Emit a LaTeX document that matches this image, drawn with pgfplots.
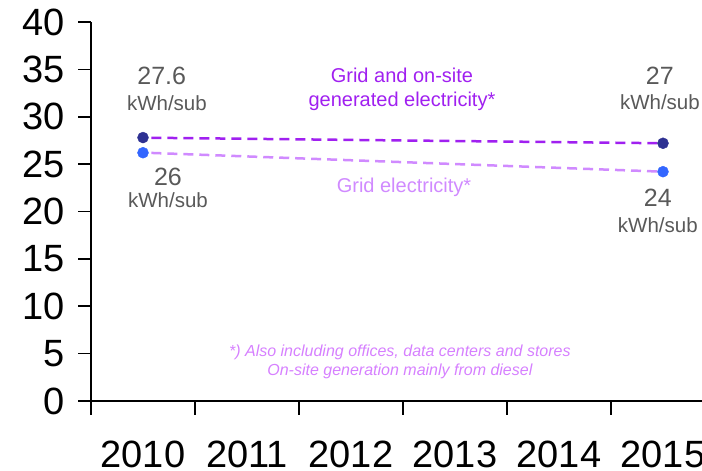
\documentclass[border=0pt]{standalone}
\usepackage{pgfplots}
\pgfplotsset{compat=1.18}
\usepackage{fontspec}
\setmainfont{Liberation Sans}

\definecolor{darkpt}{RGB}{46,49,146}
\definecolor{bluept}{RGB}{51,102,255}
\definecolor{darkline}{RGB}{160,32,240}
\definecolor{lightline}{RGB}{208,138,255}
\definecolor{lbltxt}{RGB}{89,89,89}
\definecolor{notetxt}{RGB}{214,128,255}

\begin{document}
\begin{tikzpicture}
\begin{axis}[
    x=104pt, y=9.475pt,
    xmin=2009.5, xmax=2015.375,
    ymin=0, ymax=40,
    axis lines*=left,
    axis line style={black, line width=1.6pt},
    ytick={0,5,...,40},
    xtick={2010,2011,2012,2013,2014,2015},
    xticklabels={2010,2011,2012,2013,2014,2015},
    minor xtick={2009.5,2010.5,2011.5,2012.5,2013.5,2014.5,2015.5},
    major x tick style={draw=none},
    tick align=outside,
    major tick length=13pt,
    minor tick length=14pt,
    tick style={black, line width=1.6pt},
    /pgf/number format/assume math mode=true,
    every tick label/.style={font=\fontsize{38}{40}\selectfont, text=black},
    yticklabel style={xshift=-10pt},
    xticklabel style={yshift=-23pt},
    clip=false,
]
% bounding box corners
\coordinate (bl) at (axis cs:2008.625,-7.39);
\coordinate (tr) at (axis cs:2015.375,42.32);

% dashed lines
\addplot[darkline, line width=2.5pt, dash pattern=on 10pt off 6pt] coordinates {
    (2010.08,27.78) (2015,27.2)
};
\addplot[lightline, line width=2.5pt, dash pattern=on 10pt off 6pt] coordinates {
    (2010.08,26.18) (2015,24.2)
};
% markers
\addplot[only marks, mark=*, mark size=5.5pt, darkpt, mark options={fill=darkpt, draw=darkpt}] coordinates {
    (2010,27.8) (2015,27.2)
};
\addplot[only marks, mark=*, mark size=5.5pt, bluept, mark options={fill=bluept, draw=bluept}] coordinates {
    (2010,26.2) (2015,24.2)
};

% value labels
\node[text=lbltxt, font=\fontsize{25}{27}\selectfont] at (axis cs:2010.18,34.3) {27.6};
\node[text=lbltxt, font=\fontsize{20.5}{22}\selectfont] at (axis cs:2010.23,31.45) {kWh/sub};
\node[text=lbltxt, font=\fontsize{25}{27}\selectfont] at (axis cs:2010.24,23.64) {26};
\node[text=lbltxt, font=\fontsize{20.5}{22}\selectfont] at (axis cs:2010.24,21.2) {kWh/sub};
\node[text=lbltxt, font=\fontsize{25}{27}\selectfont] at (axis cs:2014.97,34.3) {27};
\node[text=lbltxt, font=\fontsize{20.5}{22}\selectfont] at (axis cs:2014.97,31.56) {kWh/sub};
\node[text=lbltxt, font=\fontsize{25}{27}\selectfont] at (axis cs:2014.95,21.4) {24};
\node[text=lbltxt, font=\fontsize{20.5}{22}\selectfont] at (axis cs:2014.95,18.6) {kWh/sub};

% series labels
\node[text=darkline, font=\fontsize{20}{23.5}\selectfont, align=center] at (axis cs:2012.49,32.9)
    {Grid and on-site\\generated electricity*};
\node[text=lightline, font=\fontsize{20}{22}\selectfont] at (axis cs:2012.51,22.6) {Grid electricity*};

% footnote
\node[text=notetxt, font=\fontsize{16}{18.5}\selectfont\itshape, align=center] at (axis cs:2012.47,4.12)
    {*) Also including offices, data centers and stores\\On-site generation mainly from diesel};
\end{axis}
\pgfresetboundingbox
\useasboundingbox (bl) rectangle (tr);
\end{tikzpicture}
\end{document}
